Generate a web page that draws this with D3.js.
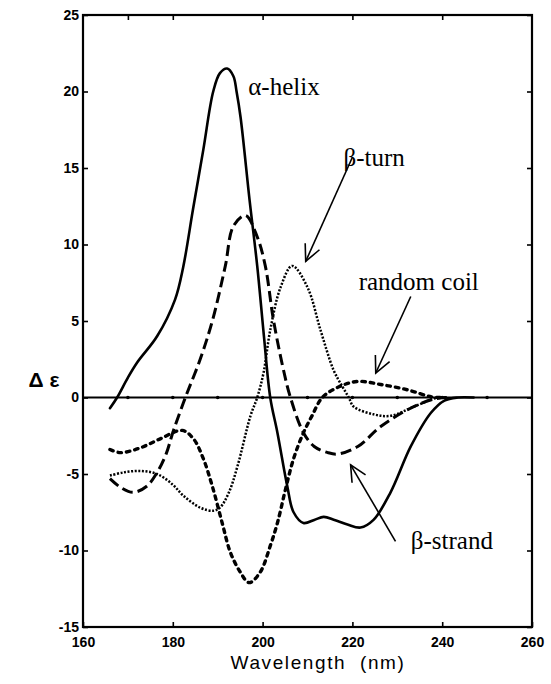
<!DOCTYPE html>
<html>
<head>
<meta charset="utf-8">
<script src="https://cdn.jsdelivr.net/npm/d3@7"></script>
<style>
  body { margin: 0; background: #fff; }
  svg { display: block; }
</style>
</head>
<body>
<div id="chart"></div>
<script>
// CD spectra of secondary structure: [wavelength nm, delta epsilon]
const alphaHelix = [
  [166, -0.7], [167.6, 0], [170, 1.3], [172.1, 2.3], [176.5, 4.0], [180.5, 6.4],
  [182.3, 8.5], [184.5, 12.3], [186.8, 16.2], [189, 20], [190.5, 21.2], [192.1, 21.5],
  [193.5, 21.0], [194.2, 20], [195.1, 18.3], [197.1, 12.9], [198.8, 8.6], [200.3, 4],
  [201.7, 0], [203.3, -2.3], [205.5, -5.8], [206.9, -7.5], [209.1, -8.2], [211.5, -8.0],
  [213.6, -7.8], [216, -8.0], [218.9, -8.3], [221.8, -8.5], [224.7, -8.0], [228.5, -6.2],
  [233, -3.2], [237.5, -1.0], [240.5, -0.2], [243.5, 0], [247, 0]
];
const betaStrand = [
  [166, -5.3], [168.5, -5.9], [171.2, -6.2], [174.2, -5.8], [176.5, -4.9], [178.5, -3.7],
  [180.1, -2.2], [182.8, 0], [186.1, 2.5], [188.8, 5], [191.7, 8.6], [193.5, 11.2],
  [196.2, 11.9], [198.8, 10.5], [200.6, 8.6], [202.4, 5.1], [204.5, 2], [206.2, 0],
  [209.1, -2.3], [211.5, -3.2], [214.5, -3.6], [216.7, -3.7], [221.2, -3.2], [226.3, -1.9],
  [232.3, -0.8], [238.1, -0.1], [241, 0]
];
const betaTurn = [
  [166, -5.1], [169, -4.9], [172.7, -4.8], [176.5, -5.0], [180, -5.7], [182.3, -6.4],
  [186.1, -7.2], [189, -7.4], [190.5, -7.2], [192.5, -6.2], [194.4, -4.5], [197.3, -1.2],
  [198.8, 0], [200.2, 1.6], [201.7, 4.4], [204, 7.2], [206.6, 8.6], [210, 7.2],
  [212.9, 4.4], [215.8, 1.8], [217.8, 0.7], [219.2, 0], [220.3, -0.6], [224.7, -1.1],
  [228.5, -1.2], [233.7, -0.6], [239, 0], [241, 0]
];
const randomCoil = [
  [166, -3.4], [168.3, -3.6], [172.7, -3.3], [177.2, -2.7], [182.1, -2.15], [184.6, -2.7],
  [186.8, -4.0], [188.8, -5.8], [191, -8.2], [192.8, -10.1], [195, -11.4], [197, -12.1],
  [199.5, -11.4], [201.7, -9.7], [203.3, -8.2], [205.1, -6.0], [206.9, -4.0], [209.1, -2.3],
  [211, -1.2], [213.3, 0], [217, 0.7], [221.2, 1.05], [226.3, 0.85], [232.3, 0.5],
  [237.5, 0.05], [240, 0]
];

const xTicks = [160, 180, 200, 220, 240, 260];
const yTicks = [-15, -10, -5, 0, 5, 10, 15, 20, 25];
const zeroMarks = [170, 180, 190, 200, 210, 220, 230, 240, 250];

// label text, anchor in data units; arrows go from [x0,y0] to tip [x1,y1]
const labels = [
  { text: "α-helix", at: [196.8, 19.8] },
  { text: "β-turn", at: [218, 15.1] },
  { text: "random coil", at: [221.4, 7.05] },
  { text: "β-strand", at: [233, -9.9] }
];
const arrows = [
  { from: [220.0, 15.7], to: [209.6, 8.9] },
  { from: [233.0, 6.6], to: [225.2, 1.6] },
  { from: [229.6, -9.4], to: [219.6, -4.4] }
];

const width = 551, height = 684;
const margin = { top: 15, right: 19, bottom: 57, left: 83 };

const x = d3.scaleLinear().domain([160, 260]).range([margin.left, width - margin.right]);
const y = d3.scaleLinear().domain([-15, 25]).range([height - margin.bottom, margin.top]);

const svg = d3.select('#chart').append('svg')
  .attr('width', width)
  .attr('height', height)
  .attr('viewBox', `0 0 ${width} ${height}`);

const tickFont = '"Liberation Sans", Arial, sans-serif';

// axes with inward ticks
const gLeft = svg.append('g')
  .attr('transform', `translate(${margin.left},0)`)
  .call(d3.axisLeft(y).tickValues(yTicks).tickSize(-5).tickSizeOuter(0).tickPadding(4).tickFormat(d => String(d)));
const gBottom = svg.append('g')
  .attr('transform', `translate(0,${height - margin.bottom})`)
  .call(d3.axisBottom(x).tickValues(xTicks).tickSize(-5).tickSizeOuter(0).tickPadding(10).tickFormat(d => String(d)));
const gRight = svg.append('g')
  .attr('transform', `translate(${width - margin.right},0)`)
  .call(d3.axisRight(y).tickValues(yTicks).tickSize(-5).tickSizeOuter(0).tickFormat(''));
const gTop = svg.append('g')
  .attr('transform', `translate(0,${margin.top})`)
  .call(d3.axisTop(x).tickValues([170, 180, 200, 220, 240]).tickSize(-5).tickSizeOuter(0).tickFormat(''));

[gLeft, gBottom, gRight, gTop].forEach(g => {
  g.attr('font-family', tickFont).attr('font-size', 14).attr('font-weight', 'bold');
  g.select('.domain').remove();
  g.selectAll('.tick line').attr('stroke', '#000').attr('stroke-width', 1.6);
  g.selectAll('.tick text').attr('fill', '#000');
});

// frame
svg.append('rect')
  .attr('x', x(160)).attr('y', y(25))
  .attr('width', x(260) - x(160)).attr('height', y(-15) - y(25))
  .attr('fill', 'none').attr('stroke', '#000').attr('stroke-width', 2.2);

// zero line
svg.append('line')
  .attr('x1', x(160)).attr('x2', x(260))
  .attr('y1', y(0)).attr('y2', y(0))
  .attr('stroke', '#000').attr('stroke-width', 2.2);
svg.append('g').selectAll('circle')
  .data(zeroMarks)
  .enter().append('circle')
  .attr('cx', d => x(d)).attr('cy', y(0)).attr('r', 1.8)
  .attr('fill', '#000');

// curves
const line = d3.line()
  .x(d => x(d[0]))
  .y(d => y(d[1]))
  .curve(d3.curveCatmullRom.alpha(0.5));

const series = [
  { data: randomCoil, width: 3.4, dash: '3.5 5', cap: 'round' },
  { data: betaTurn, width: 2.5, dash: '2 1.6', cap: 'butt' },
  { data: betaStrand, width: 3.0, dash: '11 5', cap: 'butt' },
  { data: alphaHelix, width: 2.6, dash: null, cap: 'round' }
];

svg.append('g').selectAll('path')
  .data(series)
  .enter().append('path')
  .attr('d', d => line(d.data))
  .attr('fill', 'none')
  .attr('stroke', '#000')
  .attr('stroke-width', d => d.width)
  .attr('stroke-dasharray', d => d.dash)
  .attr('stroke-linecap', d => d.cap);

// annotations
svg.append('g').selectAll('text')
  .data(labels)
  .enter().append('text')
  .attr('x', d => x(d.at[0]))
  .attr('y', d => y(d.at[1]))
  .text(d => d.text)
  .style('font-family', '"Liberation Serif", "Times New Roman", serif')
  .style('font-size', '25px')
  .attr('fill', '#000');

const arrowG = svg.append('g').attr('fill', 'none').attr('stroke', '#000').attr('stroke-width', 1.6);
arrows.forEach(a => {
  const x0 = x(a.from[0]), y0 = y(a.from[1]);
  const x1 = x(a.to[0]), y1 = y(a.to[1]);
  const ang = Math.atan2(y0 - y1, x0 - x1);
  const len = 18, spread = 0.45;
  arrowG.append('line').attr('x1', x0).attr('y1', y0).attr('x2', x1).attr('y2', y1);
  arrowG.append('path')
    .attr('d', d3.line()([
      [x1 + len * Math.cos(ang - spread), y1 + len * Math.sin(ang - spread)],
      [x1, y1],
      [x1 + len * Math.cos(ang + spread), y1 + len * Math.sin(ang + spread)]
    ]));
});

// axis titles
svg.append('text')
  .attr('x', 318).attr('y', 669)
  .attr('text-anchor', 'middle')
  .style('white-space', 'pre')
  .style('font-family', tickFont)
  .style('font-size', '19px')
  .style('letter-spacing', '1.6px')
  .attr('fill', '#000')
  .text('Wavelength  (nm)');

svg.append('text')
  .attr('x', 44).attr('y', 387)
  .attr('text-anchor', 'middle')
  .style('font-family', tickFont)
  .style('font-weight', 'bold')
  .style('font-size', '21px')
  .attr('fill', '#000')
  .text('Δ ε');
</script>
</body>
</html>
